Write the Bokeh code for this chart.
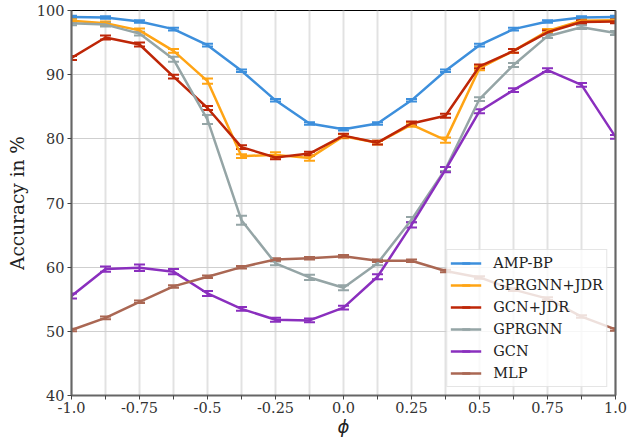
import numpy as np
from bokeh.plotting import figure
from bokeh.models import (ColumnDataSource, Whisker, TeeHead, FixedTicker, Legend,
                          LegendItem, LinearAxis, Range1d)
from bokeh.embed import file_html
from bokeh.resources import INLINE

phi = [-1.0, -0.875, -0.75, -0.625, -0.5, -0.375, -0.25, -0.125, 0.0,
       0.125, 0.25, 0.375, 0.5, 0.625, 0.75, 0.875, 1.0]

amp_bp = [99.0, 98.9, 98.3, 97.1, 94.6, 90.6, 86.0, 82.4, 81.5, 82.4, 86.0, 90.6, 94.6, 97.1, 98.3, 98.9, 99.0]
amp_bp_err = [0.2, 0.2, 0.2, 0.2, 0.2, 0.2, 0.2, 0.2, 0.2, 0.2, 0.2, 0.2, 0.2, 0.2, 0.2, 0.2, 0.2]

gprgnn_jdr = [98.4, 98.0, 96.9, 93.7, 89.0, 77.3, 77.5, 77.0, 80.4, 79.4, 82.2, 79.8, 91.0, 93.7, 96.8, 98.4, 98.5]
gprgnn_jdr_err = [0.3, 0.3, 0.3, 0.3, 0.4, 0.3, 0.4, 0.4, 0.3, 0.3, 0.3, 0.4, 0.3, 0.3, 0.3, 0.3, 0.3]

gcn_jdr = [92.6, 95.8, 94.7, 89.7, 84.8, 78.7, 77.1, 77.7, 80.5, 79.4, 82.4, 83.6, 91.3, 93.7, 96.6, 98.2, 98.3]
gcn_jdr_err = [0.3, 0.3, 0.3, 0.3, 0.3, 0.3, 0.3, 0.3, 0.3, 0.3, 0.3, 0.3, 0.3, 0.3, 0.3, 0.3, 0.3]

gprgnn = [98.0, 97.8, 96.4, 92.4, 83.0, 67.3, 60.6, 58.4, 56.8, 60.6, 67.4, 75.3, 86.2, 91.5, 96.0, 97.4, 96.5]
gprgnn_err = [0.3, 0.3, 0.3, 0.4, 0.7, 0.7, 0.3, 0.4, 0.4, 0.3, 0.4, 0.3, 0.3, 0.3, 0.3, 0.3, 0.3]

gcn = [55.5, 59.7, 59.9, 59.3, 55.9, 53.5, 51.8, 51.7, 53.7, 58.5, 66.6, 75.2, 84.3, 87.6, 90.7, 88.4, 80.3]
gcn_err = [0.4, 0.4, 0.5, 0.4, 0.4, 0.3, 0.3, 0.3, 0.3, 0.4, 0.4, 0.4, 0.3, 0.3, 0.3, 0.3, 0.3]

mlp = [50.2, 52.1, 54.6, 57.0, 58.5, 60.0, 61.2, 61.4, 61.7, 61.0, 61.0, 59.4, 58.4, 56.5, 55.1, 52.3, 50.3]
mlp_err = [0.2, 0.2, 0.2, 0.2, 0.2, 0.2, 0.2, 0.2, 0.2, 0.2, 0.2, 0.2, 0.2, 0.2, 0.2, 0.2, 0.2]

x_tick_labels = ["-1.0", "", "-0.75", "", "-0.5", "", "-0.25", "", "0.0",
                 "", "0.25", "", "0.5", "", "0.75", "", "1.0"]
y_ticks = [40, 50, 60, 70, 80, 90, 100]

series = [
    ("AMP-BP", amp_bp, amp_bp_err, "#3d8fdc"),
    ("GPRGNN+JDR", gprgnn_jdr, gprgnn_jdr_err, "#ffa414"),
    ("GCN+JDR", gcn_jdr, gcn_jdr_err, "#be2607"),
    ("GPRGNN", gprgnn, gprgnn_err, "#95a5a6"),
    ("GCN", gcn, gcn_err, "#8a2fbe"),
    ("MLP", mlp, mlp_err, "#aa6753"),
]

SERIF = "DejaVu Serif"

p = figure(width=627, height=440, output_backend="svg", toolbar_location=None,
           x_range=Range1d(-1.0, 1.0), y_range=Range1d(40, 100),
           min_border_left=71, min_border_right=12, min_border_top=10, min_border_bottom=45)

p.background_fill_color = "white"
p.border_fill_color = "white"
p.outline_line_color = "black"
p.outline_line_width = 1.2

# axes
p.xaxis.ticker = FixedTicker(ticks=phi)
p.xaxis.major_label_overrides = {t: lab for t, lab in zip(phi, x_tick_labels)}
p.yaxis.ticker = FixedTicker(ticks=y_ticks)
p.xaxis.minor_tick_line_color = None
p.yaxis.minor_tick_line_color = None
for ax in (p.xaxis[0], p.yaxis[0]):
    ax.axis_line_color = "#666666"
    ax.axis_line_width = 2
    ax.major_tick_line_color = "#444444"
    ax.major_tick_line_width = 1
    ax.major_tick_out = 4
    ax.major_tick_in = 0
    ax.major_label_text_font = SERIF
    ax.major_label_text_font_size = "14.5px"
    ax.major_label_text_color = "#333333"
    ax.major_label_standoff = 3
p.xaxis.major_label_standoff = 2

p.yaxis.axis_label = "Accuracy in %"
p.yaxis.axis_label_text_font = SERIF
p.yaxis.axis_label_text_font_size = "18.5px"
p.yaxis.axis_label_text_font_style = "normal"
p.yaxis.axis_label_text_color = "#222222"
p.yaxis.axis_label_standoff = 6

p.xaxis.axis_label = "ϕ"
p.xaxis.axis_label_text_font = "DejaVu Sans"
p.xaxis.axis_label_text_font_size = "18px"
p.xaxis.axis_label_text_font_style = "italic"
p.xaxis.axis_label_text_color = "#222222"
p.xaxis.axis_label_standoff = 0

right_axis = LinearAxis(ticker=FixedTicker(ticks=[]), axis_line_color="#666666",
                        axis_line_width=2, major_tick_out=0, major_tick_in=0,
                        major_label_text_font_size="0px", minor_tick_out=0, minor_tick_in=0)
p.add_layout(right_axis, "right")

# grid
p.xgrid.ticker = FixedTicker(ticks=phi)
p.xgrid.grid_line_color = "#e2e2e2"
p.xgrid.grid_line_width = 2
p.ygrid.ticker = FixedTicker(ticks=y_ticks)
p.ygrid.grid_line_color = "#cfcfcf"
p.ygrid.grid_line_width = 1.2

items = []
for name, vals, errs, col in series:
    up = [v + e for v, e in zip(vals, errs)]
    lo = [v - e for v, e in zip(vals, errs)]
    src = ColumnDataSource(data=dict(x=phi, y=vals, upper=up, lower=lo))
    ln = p.line("x", "y", source=src, line_color=col, line_width=2.5)
    w = Whisker(base="x", upper="upper", lower="lower", source=src, dimension="height",
                line_color=col, line_width=2,
                upper_head=TeeHead(size=11, line_color=col, line_width=2),
                lower_head=TeeHead(size=11, line_color=col, line_width=2))
    p.add_layout(w)
    dummy = ColumnDataSource(data=dict(x=[np.nan], y=[np.nan]))
    bar = p.scatter("x", "y", source=dummy, marker="dash", angle=np.pi / 2,
                    size=10, line_color=col, line_width=2.5)
    items.append(LegendItem(label=name, renderers=[ln, bar]))

legend = Legend(items=items, location="bottom_right", margin=8,
                padding=3, spacing=2, glyph_width=31, glyph_height=20, label_height=20,
                label_standoff=12, label_text_font=SERIF, label_text_font_size="14.5px",
                label_text_color="#222222",
                background_fill_color="white", background_fill_alpha=0.8,
                border_line_color="#cccccc", border_line_width=1)
p.add_layout(legend, "center")

open("out.html", "w").write(file_html(p, INLINE))
